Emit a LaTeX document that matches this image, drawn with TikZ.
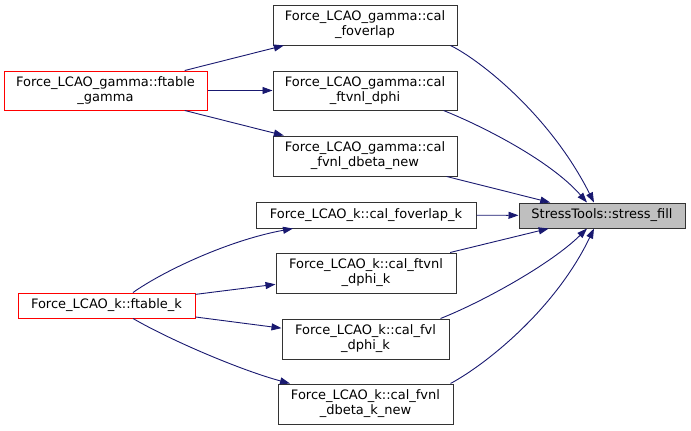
\documentclass[tikz,border=0pt]{standalone}
\usepackage{fontspec}
\setmainfont{DejaVu Sans}
\usetikzlibrary{arrows.meta}
\definecolor{edgeblue}{HTML}{191970}
\definecolor{boxgray}{HTML}{BFBFBF}
\definecolor{boxedge}{HTML}{333333}
\tikzset{
  fn/.style={draw=boxedge, line width=1pt, inner sep=0pt, align=center,
    font=\fontsize{13}{15}\selectfont, fill=white},
  caller/.style={fn, draw=red},
  target/.style={fn, fill=boxgray},
  call/.style={draw=edgeblue, line width=0.9pt,
    -{Triangle[length=10pt,width=7pt]}, fill=none},
}
\begin{document}
\begin{tikzpicture}[x=1pt,y=-1pt]
\useasboundingbox (0,0) rectangle (691,431);
\node[fn, minimum width=184, minimum height=40] (fo) at (365,25) {Force\_LCAO\_gamma::cal\\\_foverlap};
\node[caller, minimum width=203, minimum height=39] (ftg) at (105.5,90.5) {Force\_LCAO\_gamma::ftable\\\_gamma};
\node[fn, minimum width=184, minimum height=39] (fd) at (365,90.5) {Force\_LCAO\_gamma::cal\\\_ftvnl\_dphi};
\node[fn, minimum width=184, minimum height=40] (fdb) at (365,156) {Force\_LCAO\_gamma::cal\\\_fvnl\_dbeta\_new};
\node[fn, minimum width=220, minimum height=26] (fok) at (366,215) {Force\_LCAO\_k::cal\_foverlap\_k};
\node[target, minimum width=166, minimum height=25] (sf) at (602,215.5) {StressTools::stress\_fill};
\node[fn, minimum width=180, minimum height=40] (fdk) at (366,273) {Force\_LCAO\_k::cal\_ftvnl\\\_dphi\_k};
\node[caller, minimum width=177, minimum height=25] (ftk) at (106.5,305.5) {Force\_LCAO\_k::ftable\_k};
\node[fn, minimum width=167, minimum height=40] (fvk) at (365.5,339) {Force\_LCAO\_k::cal\_fvl\\\_dphi\_k};
\node[fn, minimum width=175, minimum height=40] (fdbk) at (365.5,404) {Force\_LCAO\_k::cal\_fvnl\\\_dbeta\_k\_new};

% ftable_gamma calls
\draw[call] (ftg) -- (fo);
\draw[call] (ftg) -- (fd);
\draw[call] (ftg) -- (fdb);
% ftable_k calls
\draw[call] ([xshift=26.5]ftk.north) .. controls (165,270) and (230,240) .. ([xshift=-73]fok.south);
\draw[call] (ftk) -- (fdk);
\draw[call] (ftk) -- (fvk);
\draw[call] ([xshift=26.5]ftk.south) .. controls (170,340) and (240,370) .. ([xshift=-75.5]fdbk.north);
% calls to stress_fill
\draw[call] ([xshift=-7]fo.south east) .. controls (480,60) and (550,115) .. ([xshift=-8]sf.north);
\draw[call] ([xshift=-14]fd.south east) .. controls (480,125) and (550,160) .. ([xshift=-15]sf.north);
\draw[call] (fdb) -- (sf);
\draw[call] (fok) -- (sf);
\draw[call] (fdk) -- (sf);
\draw[call] ([xshift=-9]fvk.north east) .. controls (480,303) and (550,265) .. ([xshift=-15]sf.south);
\draw[call] ([xshift=-3]fdbk.north east) .. controls (485,365) and (555,310) .. ([xshift=-8]sf.south);
\end{tikzpicture}
\end{document}
